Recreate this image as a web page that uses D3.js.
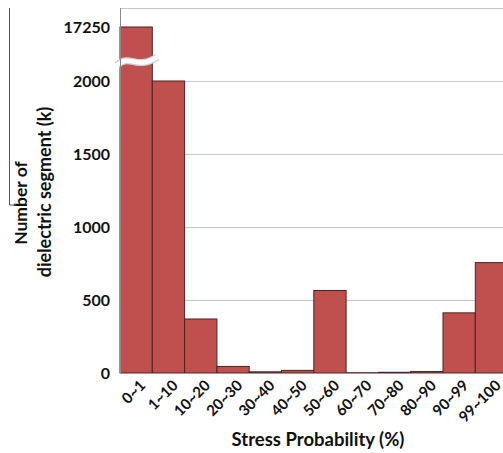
<!DOCTYPE html>
<html>
<head>
<meta charset="utf-8">
<script src="https://cdn.jsdelivr.net/npm/d3@7"></script>
<style>
  html, body { margin: 0; padding: 0; background: #fff; }
  svg { display: block; font-family: Lato, "Open Sans", "DejaVu Sans", sans-serif; }
</style>
</head>
<body>
<svg id="chart" width="503" height="453"></svg>
<script>
// Stress probability bins and number of dielectric segments (thousands)
const categories = ["0~1", "1~10", "10~20", "20~30", "30~40", "40~50",
                    "50~60", "60~70", "70~80", "80~90", "90~99", "99~100"];
const counts = [17250, 2000, 370, 45, 8, 18, 565, 2, 5, 10, 412, 756];
const tickValues = [0, 500, 1000, 1500, 2000, 17250];
const gridValues = [500, 1000, 1500, 2000];

const svg = d3.select("#chart");
const W = 503;
const plotLeft = 120, plotTop = 8, plotBottom = 373;

const x = d3.scaleBand().domain(categories).range([plotLeft, plotLeft + 12 * 32.3]).padding(0);
// Broken axis: linear up to 2000, compressed segment up to 17250
const y = d3.scaleLinear().domain([0, 2000, 17250]).range([plotBottom, 81, 27]);

const grid = "#c9c9c9";

// plot frame top line
svg.append("line").attr("x1", plotLeft).attr("x2", W).attr("y1", plotTop + 0.5).attr("y2", plotTop + 0.5)
  .attr("stroke", grid).attr("stroke-width", 1.2);

// horizontal gridlines
svg.append("g").selectAll("line").data(gridValues).join("line")
  .attr("x1", plotLeft).attr("x2", W)
  .attr("y1", d => Math.round(y(d)) + 0.5).attr("y2", d => Math.round(y(d)) + 0.5)
  .attr("stroke", grid).attr("stroke-width", 1.2);

// bars
svg.append("g").selectAll("rect").data(counts).join("rect")
  .attr("x", (d, i) => x(categories[i]))
  .attr("width", x.bandwidth())
  .attr("y", d => y(d))
  .attr("height", d => plotBottom - y(d))
  .attr("fill", "#c0504d")
  .attr("stroke", "#4d2322")
  .attr("stroke-width", 1);

// axis break across the tall first bar
const bx0 = x(categories[0]) - 3, bx1 = x(categories[0]) + x.bandwidth() + 5;
const by = 61;
const wave = `M${bx0},${by + 4} C${bx0 + 14},${by - 8} ${bx1 - 22},${by + 10} ${bx1},${by - 4}`;
svg.append("path").attr("d", wave).attr("fill", "none").attr("stroke", "#cfcfcf").attr("stroke-width", 7);
svg.append("path").attr("d", wave).attr("fill", "none").attr("stroke", "#ffffff").attr("stroke-width", 4.5);

// left axis and baseline
svg.append("line").attr("x1", plotLeft + 0.5).attr("x2", plotLeft + 0.5).attr("y1", plotTop).attr("y2", plotBottom)
  .attr("stroke", "#8a8a8a").attr("stroke-width", 1);
svg.append("line").attr("x1", plotLeft).attr("x2", W).attr("y1", plotBottom + 0.5).attr("y2", plotBottom + 0.5)
  .attr("stroke", "#9a9a9a").attr("stroke-width", 1.2);

// y tick labels
svg.append("g").selectAll("text").data(tickValues).join("text")
  .attr("x", 110).attr("y", d => y(d))
  .attr("dy", "0.36em")
  .attr("text-anchor", "end")
  .attr("font-size", 16).attr("font-weight", 700).attr("fill", "#111")
  .text(d => d);

// x tick labels, rotated
svg.append("g").selectAll("text").data(categories).join("text")
  .attr("transform", d => `translate(${x(d) + x.bandwidth() / 2 + 4},${plotBottom + 7}) rotate(-45)`)
  .attr("text-anchor", "end")
  .attr("dy", "0.6em")
  .attr("font-size", 15).attr("font-weight", 700).attr("fill", "#111")
  .text(d => d);

// x axis title
svg.append("text").attr("x", 318).attr("y", 446)
  .attr("text-anchor", "middle").attr("font-size", 18.5).attr("font-weight", 700).attr("fill", "#111")
  .text("Stress Probability (%)");

// y axis title, two lines
svg.append("text").attr("transform", "translate(27,203) rotate(-90)")
  .attr("text-anchor", "middle").attr("font-size", 17.5).attr("font-weight", 700).attr("fill", "#111")
  .text("Number of");
svg.append("text").attr("transform", "translate(51,192) rotate(-90)")
  .attr("text-anchor", "middle").attr("font-size", 18).attr("font-weight", 700).attr("fill", "#111")
  .text("dielectric segment (k)");

// thin rule beside the title
svg.append("path").attr("d", "M9.5,8 V205 H16").attr("fill", "none").attr("stroke", "#555").attr("stroke-width", 1);
</script>
</body>
</html>
